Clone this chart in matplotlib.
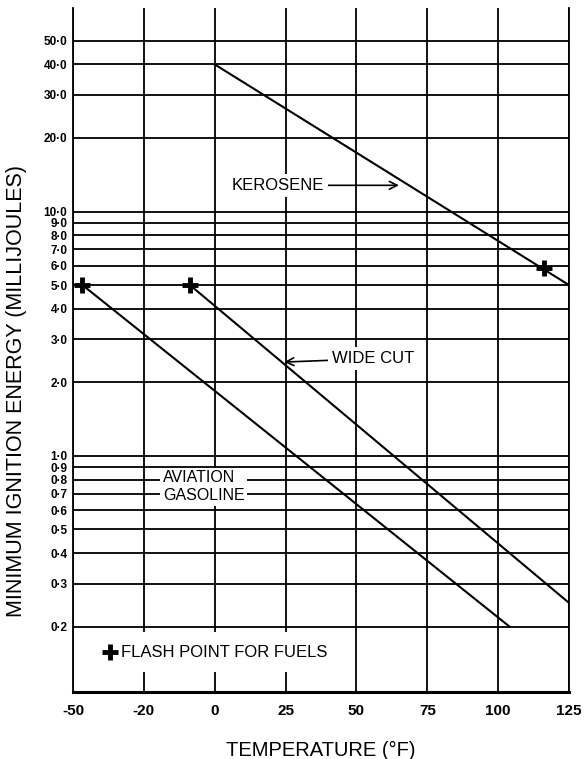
import numpy as np
import matplotlib
matplotlib.use("Agg")
import matplotlib.pyplot as plt
from matplotlib.ticker import NullLocator

plt.rcParams['font.family'] = ['Liberation Sans', 'DejaVu Sans']

# x axis: temperature ticks are equally spaced on the chart even though the values are not
temp_ticks = [-50, -20, 0, 25, 50, 75, 100, 125]
temp_labels = ['-50', '-20', '0', '25', '50', '75', '100', '125']

energy_ticks = [0.2, 0.3, 0.4, 0.5, 0.6, 0.7, 0.8, 0.9, 1.0,
                2.0, 3.0, 4.0, 5.0, 6.0, 7.0, 8.0, 9.0, 10.0,
                20.0, 30.0, 40.0, 50.0]
energy_labels = ['0·2', '0·3', '0·4', '0·5', '0·6', '0·7', '0·8', '0·9', '1·0',
                 '2·0', '3·0', '4·0', '5·0', '6·0', '7·0', '8·0', '9·0', '10·0',
                 '20·0', '30·0', '40·0', '50·0']

# fuel lines (temperature °F, energy mJ)
kerosene_t = [0, 125]
kerosene_e = [40.0, 5.0]
widecut_t = [-7, 125]
widecut_e = [5.0, 0.25]
avgas_t = [-46, 104]
avgas_e = [5.0, 0.2]

# flash points
flash_t = [-46, -7, 116]
flash_e = [5.0, 5.0, 5.9]

pos = np.arange(len(temp_ticks), dtype=float)


def fwd(t):
    t = np.asarray(t, dtype=float)
    out = np.interp(t, temp_ticks, pos)
    lo = t < temp_ticks[0]
    hi = t > temp_ticks[-1]
    out = np.where(lo, (t - temp_ticks[0]) / 30.0, out)
    out = np.where(hi, pos[-1] + (t - temp_ticks[-1]) / 25.0, out)
    return out


def inv(p):
    p = np.asarray(p, dtype=float)
    out = np.interp(p, pos, temp_ticks)
    out = np.where(p < 0, temp_ticks[0] + p * 30.0, out)
    out = np.where(p > pos[-1], temp_ticks[-1] + (p - pos[-1]) * 25.0, out)
    return out


fig = plt.figure(figsize=(5.87, 7.59), dpi=100)
ax = fig.add_axes([0.1244, 0.0883, 0.845, 0.901])

ax.set_xscale('function', functions=(fwd, inv))
ax.set_yscale('log')
ax.set_xlim(-50, 125)
ax.set_ylim(0.108, 68)

ax.set_xticks(temp_ticks)
ax.set_xticklabels(temp_labels, fontsize=11, fontweight='bold')
ax.xaxis.set_minor_locator(NullLocator())
ax.set_yticks(energy_ticks)
ax.set_yticklabels(energy_labels, fontsize=8.5, fontweight='bold')
ax.yaxis.set_minor_locator(NullLocator())
ax.tick_params(axis='x', length=0, pad=9)
ax.tick_params(axis='y', length=0, pad=4)

ax.grid(True, which='major', color='black', lw=1.3)
ax.set_axisbelow(True)

for s in ['left', 'right']:
    ax.spines[s].set_linewidth(1.3)
ax.spines['bottom'].set_linewidth(2.2)
ax.spines['top'].set_visible(False)

ax.plot(kerosene_t, kerosene_e, color='black', lw=1.5, zorder=3)
ax.plot(widecut_t, widecut_e, color='black', lw=1.5, zorder=3)
ax.plot(avgas_t, avgas_e, color='black', lw=1.5, zorder=3)
ax.plot(flash_t, flash_e, linestyle='none', marker='+', ms=12, mew=3.5,
        color='black', zorder=4)

box = dict(facecolor='white', edgecolor='none', pad=3)

ax.annotate('KEROSENE', xy=(65, 12.8), xytext=(6, 12.8),
            fontsize=12, ha='left', va='center', bbox=box, zorder=5,
            arrowprops=dict(arrowstyle='->', color='black', lw=1.2,
                            mutation_scale=14, shrinkA=0, shrinkB=0))
ax.annotate('WIDE CUT', xy=(24.5, 2.42), xytext=(41.5, 2.5),
            fontsize=12, ha='left', va='center', bbox=box, zorder=5,
            arrowprops=dict(arrowstyle='->', color='black', lw=1.2,
                            mutation_scale=14, shrinkA=0, shrinkB=0))
ax.text(-14.6, 0.746, 'AVIATION\nGASOLINE', fontsize=11.5, ha='left',
        va='center', bbox=dict(facecolor='white', edgecolor='none', pad=2),
        zorder=5, linespacing=1.25)
ax.text(-29.6, 0.157, 'FLASH POINT FOR FUELS', fontsize=12, ha='left',
        va='center', bbox=dict(facecolor='white', edgecolor='none', pad=9),
        zorder=5)
ax.plot([-34.2], [0.157], linestyle='none', marker='+', ms=11, mew=3.5,
        color='black', zorder=6)

ax.set_ylabel('MINIMUM IGNITION ENERGY (MILLIJOULES)', fontsize=15.5,
              labelpad=4)
ax.yaxis.set_label_coords(-0.092, 0.44)
ax.set_xlabel('TEMPERATURE (°F)', fontsize=14.5)
ax.xaxis.set_label_coords(0.5, -0.072)

fig.savefig('out.png', dpi=100)
